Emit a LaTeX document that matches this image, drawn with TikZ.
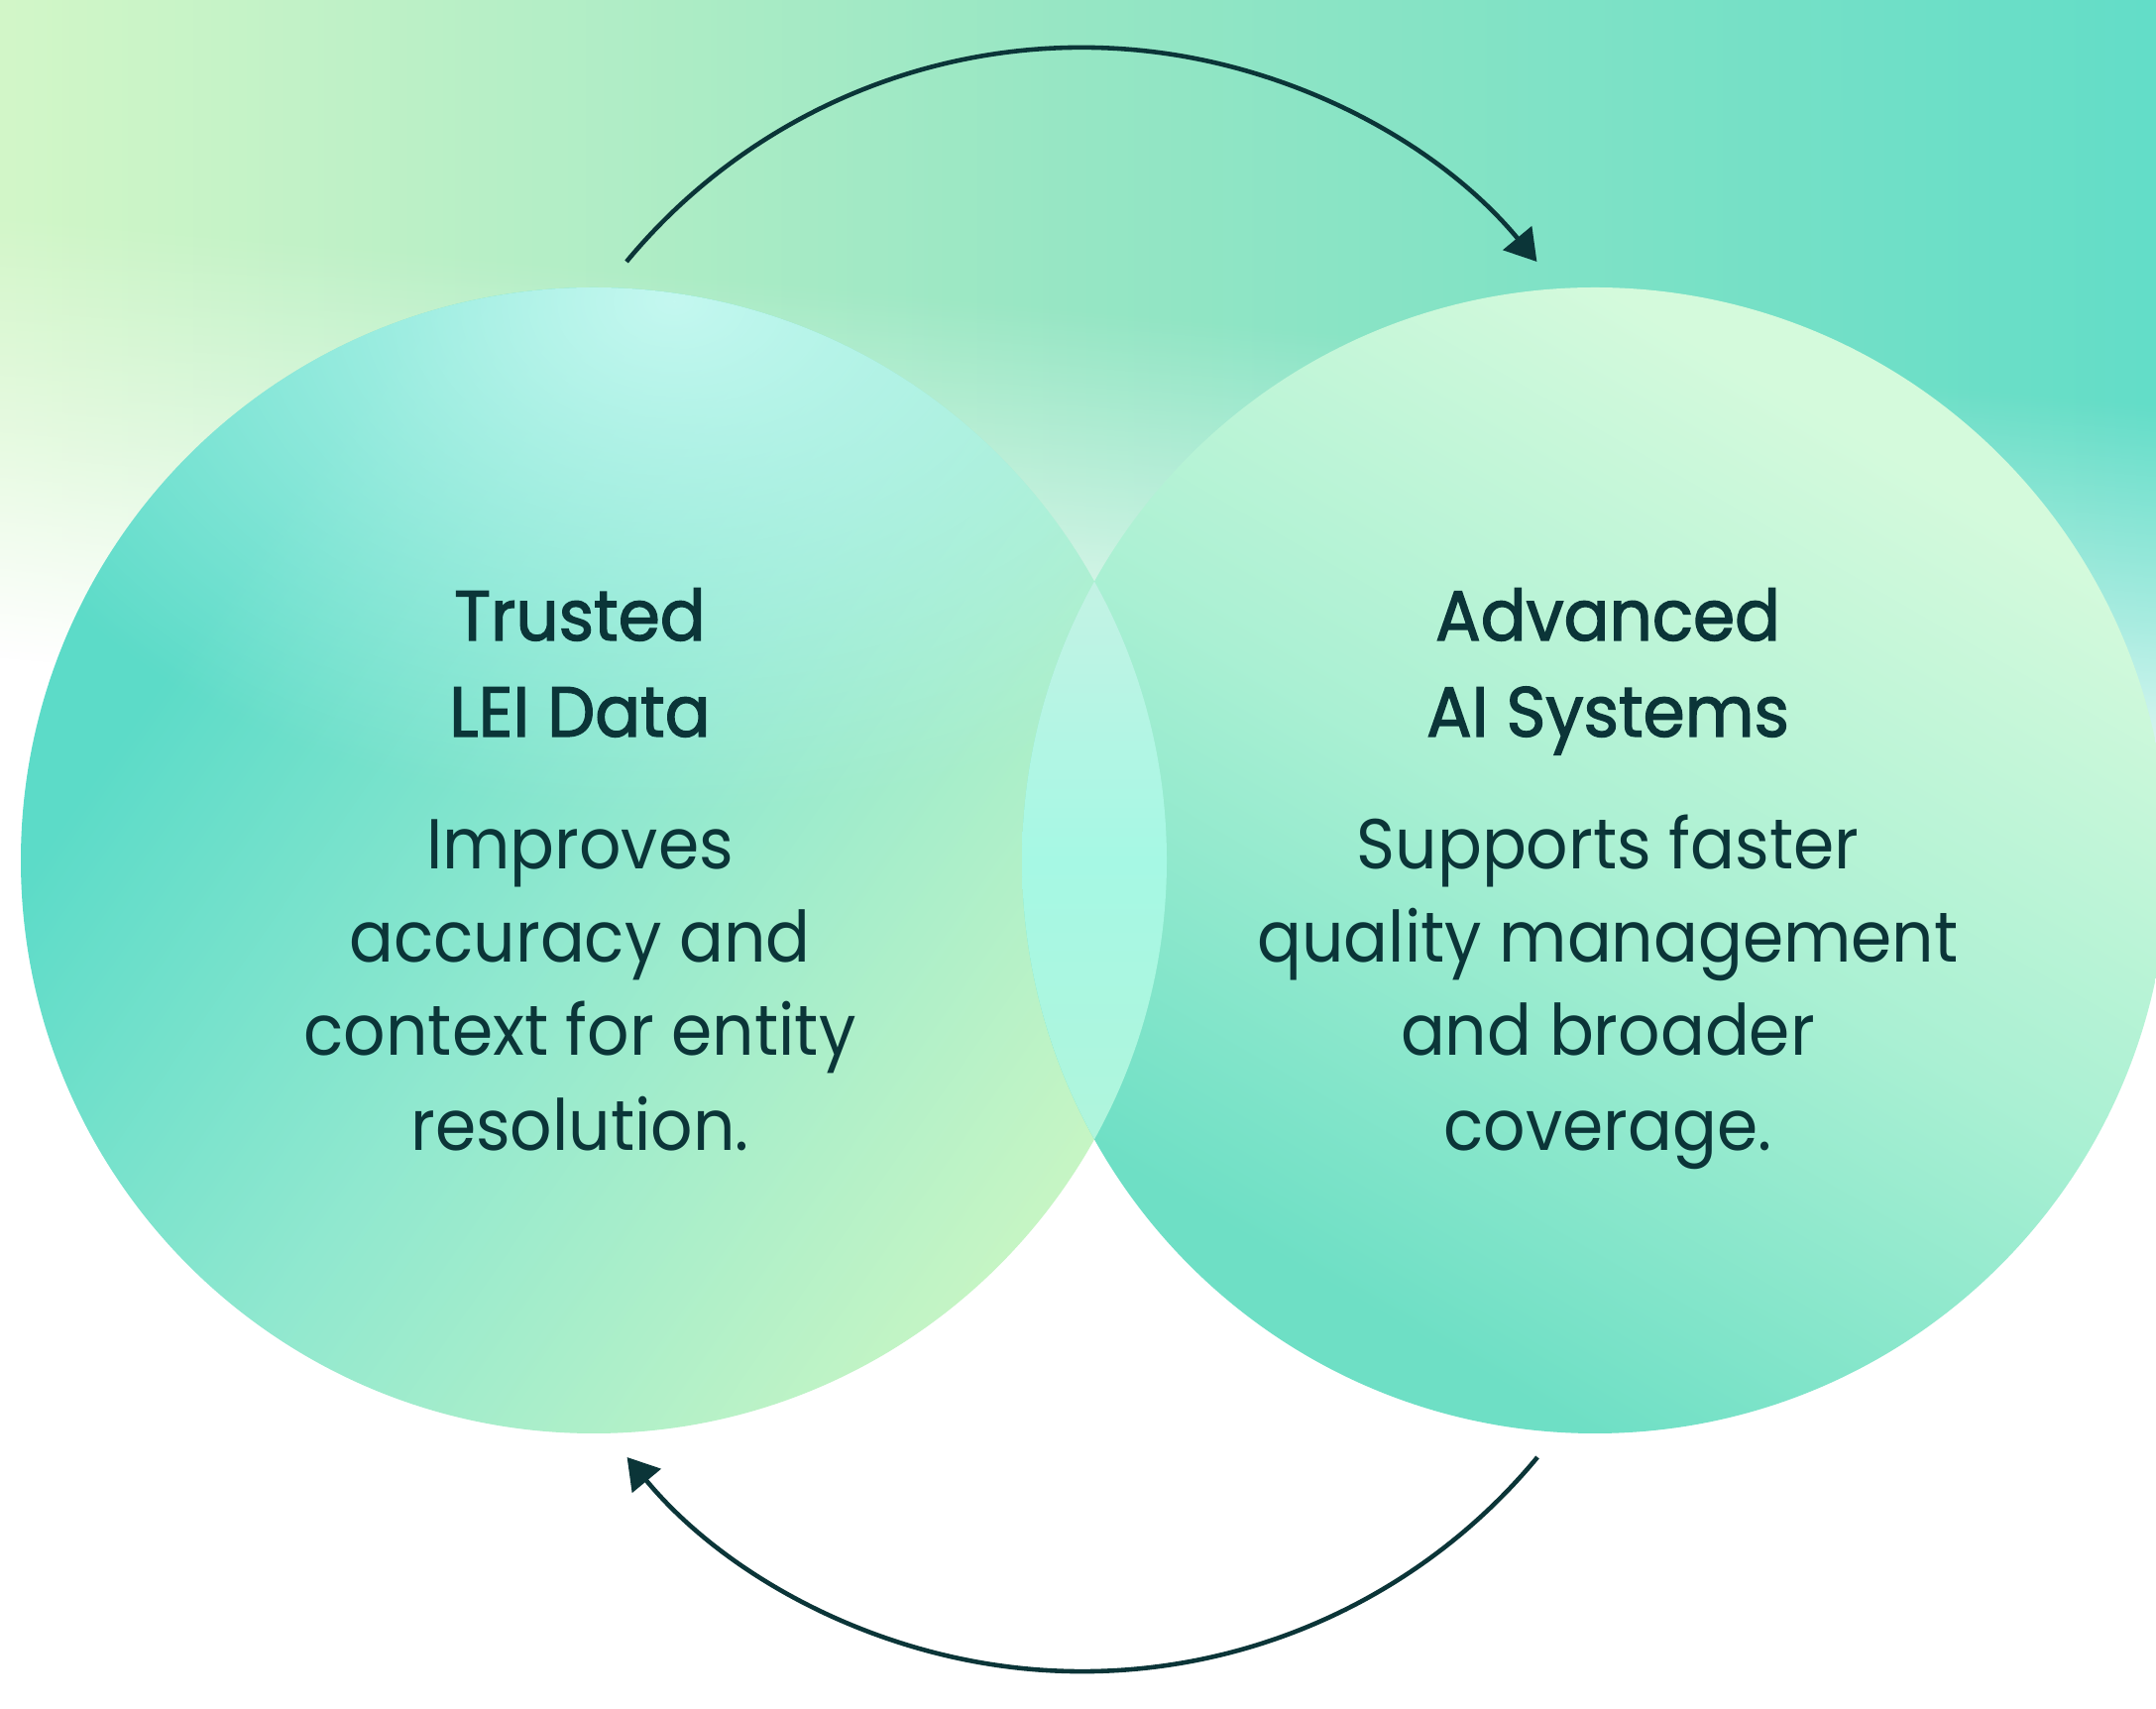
\documentclass[tikz,border=0pt]{standalone}
\usepackage{fontspec}
\setmainfont{Poppins}[FakeStretch=0.93]
\newfontfamily\ttlfont{Poppins}[FakeStretch=0.95, FakeBold=1.8]
\usetikzlibrary{arrows.meta,fadings}
\definecolor{ink}{HTML}{0B3538}
\definecolor{bgL}{HTML}{D8F8C8}
\definecolor{bgM}{HTML}{96E6C4}
\definecolor{bgR}{HTML}{5EDCC8}
\definecolor{lcTeal}{HTML}{5CDBC8}
\definecolor{lcMid}{HTML}{90E8CF}
\definecolor{lcLight}{HTML}{C6F5C4}
\definecolor{lcGlow}{HTML}{C4F8F0}
\definecolor{rcTeal}{HTML}{6EDFC5}
\definecolor{rcMid}{HTML}{AAF0D3}
\definecolor{rcLight}{HTML}{D4FADC}
\definecolor{ovT}{HTML}{C4F2E4}
\definecolor{ovM}{HTML}{A6F8E4}
\definecolor{ovB}{HTML}{B0F5DC}
\pgfdeclarehorizontalshading{bgshade}{100bp}{color(0bp)=(bgL); color(25bp)=(bgL); color(50bp)=(bgM); color(75bp)=(bgR); color(100bp)=(bgR)}
\pgfdeclarehorizontalshading{lcshade}{100bp}{color(0bp)=(lcTeal); color(30bp)=(lcTeal); color(50bp)=(lcMid); color(75bp)=(lcLight); color(100bp)=(lcLight)}
\pgfdeclarehorizontalshading{rcshade}{100bp}{color(0bp)=(rcTeal); color(28bp)=(rcTeal); color(50bp)=(rcMid); color(72bp)=(rcLight); color(100bp)=(rcLight)}
\pgfdeclareverticalshading{bgfadesh}{100bp}{color(0bp)=(black); color(36bp)=(black); color(47bp)=(black!45!white); color(58bp)=(white); color(100bp)=(white)}
\pgfdeclarefading{bgfade}{\pgfuseshading{bgfadesh}}
\tikzfading[name=radglow, inner color=transparent!0, outer color=transparent!100]
\tikzset{
  ttl/.style={anchor=base, inner sep=0pt, text=ink, font=\fontsize{20.3}{27}\selectfont\ttlfont},
  bdy/.style={anchor=base, inner sep=0pt, text=ink, font=\fontsize{20.3}{27}\selectfont},
  loop/.style={draw=ink, line width=1.3pt, -{Triangle[length=3.1mm, width=3.7mm]}}
}
\begin{document}
\begin{tikzpicture}[x=0.01cm, y=0.01cm]
\useasboundingbox (0,0) rectangle (2175,1724);
\clip (0,0) rectangle (2175,1724);
\fill[white] (0,0) rectangle (2175,1724);
% background wash
\shade[shading=bgshade, path fading=bgfade, fading angle=-12] (-100,750) rectangle (2275,1750);
% circles
\coordinate (L) at (599,856);
\coordinate (R) at (1609,856);
\shade[shading=lcshade, shading angle=-35] (L) circle (578);
\begin{scope}
  \clip (L) circle (578);
  \fill[lcGlow, path fading=radglow] (680,1420) ellipse (760 and 520);
\end{scope}
\shade[shading=rcshade, shading angle=60] (R) circle (578);
% overlap lens
\begin{scope}
  \clip (L) circle (578);
  \clip (R) circle (578);
  \shade[top color=ovT, bottom color=ovB, middle color=ovM] (1020,566) rectangle (1190,1146);
\end{scope}
% texts
\node[ttl] (t1a) at (585,1078) {Trusted};
\node[ttl] (t1b) at (585,981) {LEI Data};
\node[bdy] (b1a) at (585,847) {Improves};
\node[bdy] (b1b) at (585,753) {accuracy and};
\node[bdy] (b1c) at (585,659) {context for entity};
\node[bdy] (b1d) at (585,563) {resolution.};
\node[ttl] (t2a) at (1622,1078) {Advanced};
\node[ttl] (t2b) at (1622,981) {AI Systems};
\node[bdy] (b2a) at (1622,847) {Supports faster};
\node[bdy] (b2b) at (1622,753) {quality management};
\node[bdy] (b2c) at (1622,659) {and broader};
\node[bdy] (b2d) at (1622,563) {coverage.};
% loop arrows
\coordinate (topS) at (632,1460);
\coordinate (botS) at (1551,254);
\draw[loop] (topS) arc[start angle=140.4, end angle=39.6, radius=596];
\draw[loop] (botS) arc[start angle=-39.6, end angle=-140.4, radius=596];
\end{tikzpicture}
\end{document}
